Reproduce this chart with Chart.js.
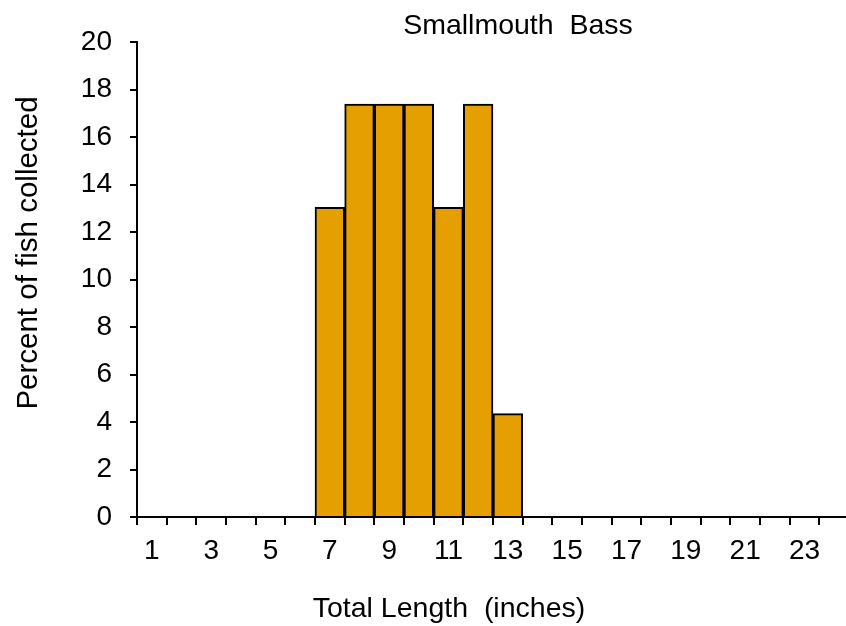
<!DOCTYPE html>
<html>
<head>
<meta charset="utf-8">
<script src="https://cdn.jsdelivr.net/npm/chart.js@4/dist/chart.umd.min.js"></script>
<style>
    html, body { margin: 0; padding: 0; background: #fff; overflow: hidden; }
    #wrap { width: 856px; height: 626px; }
</style>
</head>
<body>
<div id="wrap"><canvas id="lengthChart" width="856" height="626"></canvas></div>
<script>
    // length classes (inches) and percent of fish in each
    var lengthClasses = [1, 2, 3, 4, 5, 6, 7, 8, 9, 10, 11, 12, 13, 14, 15, 16, 17, 18, 19, 20, 21, 22, 23, 24];
    var percentFish = [0, 0, 0, 0, 0, 0, 13.04, 17.39, 17.39, 17.39, 13.04, 17.39, 4.35, 0, 0, 0, 0, 0, 0, 0, 0, 0, 0, 0];
    var yTicks = [0, 2, 4, 6, 8, 10, 12, 14, 16, 18, 20];

    var chartTitle = 'Smallmouth  Bass';
    var xTitle = 'Total Length  (inches)';
    var yTitle = 'Percent of fish collected';

    var FONT = '"Liberation Sans", Arial, sans-serif';
    var FONT_SIZE = 28;

    // draw titles the way the spreadsheet placed them
    var titlesPlugin = {
        id: 'titlesPlugin',
        afterDraw: function (chart) {
            var ctx = chart.ctx;
            ctx.save();
            ctx.fillStyle = '#000';
            ctx.font = '28.5px ' + FONT;
            ctx.textAlign = 'center';
            ctx.textBaseline = 'alphabetic';
            ctx.fillText(chartTitle, 518, 34);
            ctx.fillText(xTitle, 449, 617);

            ctx.font = '29.5px ' + FONT;
            ctx.translate(37, 253);
            ctx.rotate(-Math.PI / 2);
            ctx.fillText(yTitle, 0, 0);
            ctx.restore();
        }
    };

    var ctx = document.getElementById('lengthChart').getContext('2d');
    new Chart(ctx, {
        type: 'bar',
        data: {
            labels: lengthClasses,
            datasets: [{
                data: percentFish,
                backgroundColor: '#E69F00',
                borderColor: '#000',
                borderWidth: 2,
                borderSkipped: 'bottom',
                barPercentage: 1,
                categoryPercentage: 1
            }]
        },
        options: {
            responsive: false,
            animation: false,
            layout: { padding: { top: 42, right: 7, left: 0, bottom: 0 } },
            plugins: {
                legend: { display: false },
                tooltip: { enabled: false }
            },
            scales: {
                x: {
                    afterFit: function (scale) { scale.height = 109; },
                    offset: true,
                    border: { display: true, color: '#000', width: 2 },
                    grid: {
                        offset: true,
                        drawOnChartArea: false,
                        drawTicks: true,
                        tickLength: 8,
                        color: '#000',
                        lineWidth: 2
                    },
                    ticks: {
                        autoSkip: false,
                        maxRotation: 0,
                        padding: 9,
                        color: '#000',
                        font: { family: FONT, size: FONT_SIZE },
                        callback: function (value, index) {
                            return index % 2 === 0 ? this.getLabelForValue(value) : '';
                        }
                    }
                },
                y: {
                    min: 0,
                    max: 20,
                    afterFit: function (scale) { scale.width = 137; },
                    afterBuildTicks: function (scale) {
                        scale.ticks = yTicks.map(function (v) { return { value: v }; });
                    },
                    border: { display: true, color: '#000', width: 2 },
                    grid: {
                        drawOnChartArea: false,
                        drawTicks: true,
                        tickLength: 7,
                        color: '#000',
                        lineWidth: 2
                    },
                    ticks: {
                        padding: 18,
                        color: '#000',
                        font: { family: FONT, size: FONT_SIZE }
                    }
                }
            }
        },
        plugins: [titlesPlugin]
    });
</script>
</body>
</html>
